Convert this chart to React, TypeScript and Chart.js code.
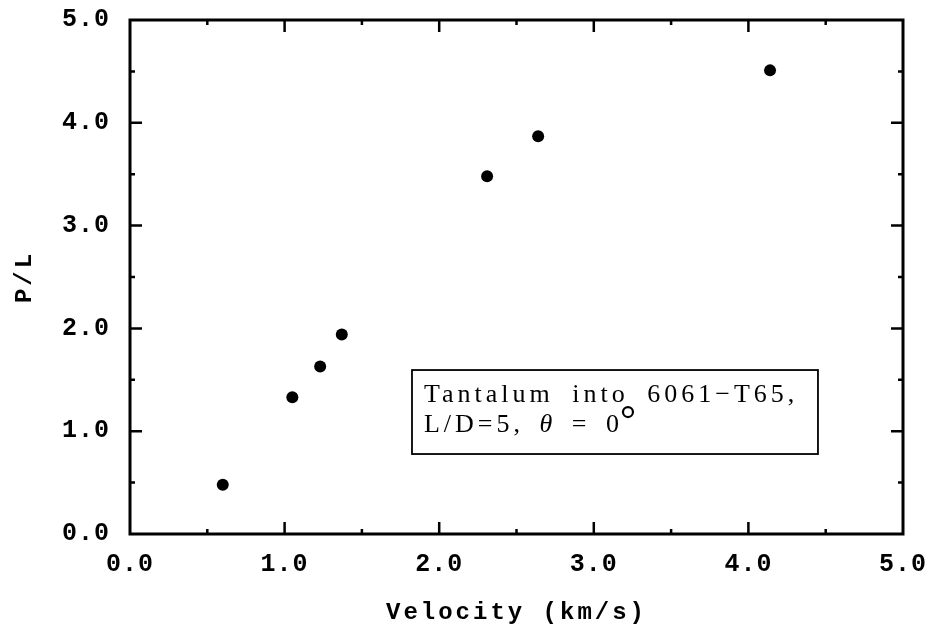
import { useEffect, useRef } from 'react';
import { Chart, LinearScale, registerables } from 'chart.js';

// Linear axis whose tick labels and title are drawn with extra letter spacing
class SpacedLinearScale extends LinearScale {
  static id = 'spacedLinear';
  static defaults = LinearScale.defaults;

  drawLabels(chartArea: any) {
    const ctx = (this as any).ctx as CanvasRenderingContext2D;
    ctx.save();
    (ctx as any).letterSpacing = '1px';
    super.drawLabels(chartArea);
    ctx.restore();
  }

  drawTitle() {
    const ctx = (this as any).ctx as CanvasRenderingContext2D;
    ctx.save();
    (ctx as any).letterSpacing = '3px';
    super.drawTitle();
    ctx.restore();
  }
}

Chart.register(...registerables, SpacedLinearScale);

// Penetration depth (P/L) against impact velocity
const velocity = [0.6, 1.05, 1.23, 1.37, 2.31, 2.64, 4.14];
const penetration = [0.48, 1.33, 1.63, 1.94, 3.48, 3.87, 4.51];

const xTicks = [0, 1, 2, 3, 4, 5];
const yTicks = [0, 1, 2, 3, 4, 5];
const xTitle = 'Velocity (km/s)';
const yTitle = 'P/L';

// Note box text
const noteLine1 = 'Tantalum into 6061\u2212T65,';
const noteLead = 'L/D=5, ';
const noteSymbol = '\u03B8';
const noteTail = ' = 0';

// Note box corners in data units
const noteBox = { x0: 1.824, x1: 4.45, y0: 0.778, y1: 1.595 };

const axisFont = '"Liberation Mono", "DejaVu Sans Mono", monospace';
const noteFont = '"Liberation Serif", "DejaVu Serif", serif';

const framePlugin = {
  id: 'frameAndNote',
  afterDraw(chart: any) {
    const { ctx, chartArea } = chart;
    const xs = chart.scales.x;
    const ys = chart.scales.y;
    const { left, right, top, bottom } = chartArea;
    ctx.save();
    ctx.strokeStyle = '#000';
    ctx.lineCap = 'butt';

    // inward tick marks on all four sides
    ctx.lineWidth = 2.5;
    for (let v = 0.5; v < 5; v += 0.5) {
      const major = Math.abs(v - Math.round(v)) < 1e-6;
      const len = major ? 12 : 5;
      const px = xs.getPixelForValue(v);
      ctx.beginPath();
      ctx.moveTo(px, bottom);
      ctx.lineTo(px, bottom - len);
      ctx.moveTo(px, top);
      ctx.lineTo(px, top + len);
      const py = ys.getPixelForValue(v);
      ctx.moveTo(left, py);
      ctx.lineTo(left + len, py);
      ctx.moveTo(right, py);
      ctx.lineTo(right - len, py);
      ctx.stroke();
    }

    // plot frame
    ctx.lineWidth = 3;
    ctx.strokeRect(left, top, right - left, bottom - top);

    // note box
    const bx0 = xs.getPixelForValue(noteBox.x0);
    const bx1 = xs.getPixelForValue(noteBox.x1);
    const by0 = ys.getPixelForValue(noteBox.y1);
    const by1 = ys.getPixelForValue(noteBox.y0);
    ctx.lineWidth = 1.8;
    ctx.strokeRect(bx0, by0, bx1 - bx0, by1 - by0);

    ctx.fillStyle = '#000';
    ctx.textBaseline = 'alphabetic';
    ctx.textAlign = 'left';
    ctx.letterSpacing = '4px';
    ctx.wordSpacing = '8px';
    ctx.font = `26px ${noteFont}`;
    const tx = bx0 + 12;
    ctx.fillText(noteLine1, tx, by0 + 32);

    const base2 = by0 + 62;
    let cx = tx;
    ctx.wordSpacing = '5px';
    ctx.font = `26px ${noteFont}`;
    ctx.fillText(noteLead, cx, base2);
    cx += ctx.measureText(noteLead).width;
    ctx.font = `italic 26px ${noteFont}`;
    ctx.fillText(noteSymbol, cx, base2);
    cx += ctx.measureText(noteSymbol).width;
    ctx.font = `26px ${noteFont}`;
    ctx.fillText(noteTail, cx, base2);
    cx += ctx.measureText(noteTail).width;

    // degree ring, raised to the upper right of the last digit
    ctx.lineWidth = 2.2;
    ctx.beginPath();
    ctx.arc(cx + 5, base2 - 20, 5, 0, Math.PI * 2);
    ctx.stroke();
    ctx.restore();
  },
};

export default function App() {
  const canvasRef = useRef<HTMLCanvasElement | null>(null);

  useEffect(() => {
    const canvas = canvasRef.current;
    if (!canvas) return;
    const tickFont = { family: axisFont, size: 25, weight: 'bold' as const };
    const titleFont = { family: axisFont, size: 24, weight: 'bold' as const };

    const chart = new Chart(canvas, {
      type: 'scatter',
      data: {
        datasets: [
          {
            data: velocity.map((x, i) => ({ x, y: penetration[i] })),
            backgroundColor: '#000',
            borderColor: '#000',
            borderWidth: 0,
            pointRadius: 6,
            pointHoverRadius: 6,
          },
        ],
      },
      options: {
        animation: false,
        responsive: false,
        devicePixelRatio: 1,
        layout: { padding: { left: 0, right: 32, top: 20, bottom: 0 } },
        plugins: { legend: { display: false }, tooltip: { enabled: false } },
        scales: {
          x: {
            type: 'spacedLinear' as any,
            min: 0,
            max: 5,
            grid: { display: false, drawTicks: false },
            border: { display: false },
            afterBuildTicks: (s: any) => {
              s.ticks = xTicks.map((value) => ({ value }));
            },
            afterFit: (s: any) => {
              s.height = 96;
              s.paddingLeft = 0;
              s.paddingRight = 0;
            },
            ticks: {
              color: '#000',
              font: tickFont,
              padding: 16,
              maxRotation: 0,
              autoSkip: false,
              callback: (v: any) => Number(v).toFixed(1),
            },
            title: {
              display: true,
              text: xTitle,
              color: '#000',
              font: titleFont,
              padding: { top: 0, bottom: 3 },
            },
          },
          y: {
            type: 'spacedLinear' as any,
            min: 0,
            max: 5,
            grid: { display: false, drawTicks: false },
            border: { display: false },
            afterBuildTicks: (s: any) => {
              s.ticks = yTicks.map((value) => ({ value }));
            },
            afterFit: (s: any) => {
              s.width = 130;
              s.paddingTop = 0;
              s.paddingBottom = 0;
            },
            ticks: {
              color: '#000',
              font: tickFont,
              padding: 20,
              autoSkip: false,
              callback: (v: any) => Number(v).toFixed(1),
            },
            title: {
              display: true,
              text: yTitle,
              color: '#000',
              font: titleFont,
              padding: { top: 11, bottom: 0 },
            },
          },
        },
      },
      plugins: [framePlugin],
    });
    return () => chart.destroy();
  }, []);

  return (
    <div style={{ position: 'absolute', left: 0, top: 0, width: 935, height: 630, background: '#fff' }}>
      <canvas ref={canvasRef} width={935} height={630} />
    </div>
  );
}
